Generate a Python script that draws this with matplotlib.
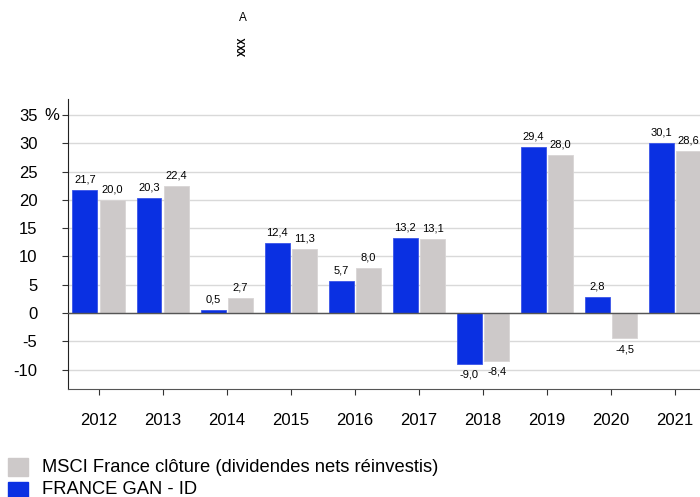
import matplotlib
matplotlib.use("Agg")
import matplotlib.pyplot as plt
from matplotlib.patches import Rectangle
import numpy as np

years = [2012, 2013, 2014, 2015, 2016, 2017, 2018, 2019, 2020, 2021]
fund = [21.7, 20.3, 0.5, 12.4, 5.7, 13.2, -9.0, 29.4, 2.8, 30.1]
index = [20.0, 22.4, 2.7, 11.3, 8.0, 13.1, -8.4, 28.0, -4.5, 28.6]
fund_name = "FRANCE GAN - ID"
index_name = "MSCI France clôture (dividendes nets réinvestis)"
yticks = [-10, -5, 0, 5, 10, 15, 20, 25, 30, 35]

blue = "#0a30e2"
gray = "#cdc9c9"

W, H = 700, 497
plt.rcParams['font.family'] = ['Liberation Sans', 'DejaVu Sans']
fig = plt.figure(figsize=(W / 100, H / 100), dpi=100)
ax = fig.add_axes([68 / W, 1 - 389 / H, 632 / W, 290 / H])

x = np.array(years, dtype=float)
bw = 0.39
off = 0.215
ax.bar(x - off, fund, width=bw, color=blue, edgecolor="#3a55e8", lw=0.6, zorder=3)
ax.bar(x + off, index, width=bw, color=gray, edgecolor="#d8d5d5", lw=0.6, zorder=3)

ax.set_xlim(2011.52, 2021.39)
ax.set_ylim(-13.43, 37.83)

for v in yticks:
    ax.axhline(v, color="#d9d9d9", lw=1, zorder=1)
ax.axhline(0, color="#555555", lw=1, zorder=4)

def fmt(v):
    return f"{v:.1f}".replace(".", ",")

def label(xs, vals):
    for xi, v in zip(xs, vals):
        if v >= 0:
            ax.annotate(fmt(v), (xi, v), xytext=(0, 4), textcoords="offset points",
                        ha="center", va="bottom", fontsize=8, zorder=5)
        else:
            ax.annotate(fmt(v), (xi, v), xytext=(0, -4), textcoords="offset points",
                        ha="center", va="top", fontsize=8, zorder=5)

label(x - off, fund)
label(x + off, index)

ax.set_xticks(years)
ax.set_xticklabels([str(y) for y in years], fontsize=12)
ax.set_yticks(yticks)
ax.set_yticklabels([str(v) for v in yticks], fontsize=12)
ax.tick_params(axis="y", length=4, pad=18, color="#333333")
ax.tick_params(axis="x", length=4, pad=13, color="#333333")

for s in ["top", "right"]:
    ax.spines[s].set_visible(False)
ax.spines["left"].set_color("#222222")
ax.spines["bottom"].set_color("#555555")

fig.text(52 / W, 1 - 115 / H, "%", fontsize=12, ha="center", va="center")
fig.text(243 / W, 1 - 18 / H, "A", fontsize=8.5, ha="center", va="center")
fig.text(243 / W, 1 - 46 / H, "XXX", fontsize=7, ha="center", va="center",
         rotation=90, fontweight="bold")

# legend
fig.add_artist(Rectangle((8 / W, 1 - 476 / H), 20 / W, 18 / H, color=gray,
                         transform=fig.transFigure))
fig.add_artist(Rectangle((8 / W, 1 - 497 / H), 20 / W, 15 / H, color=blue,
                         transform=fig.transFigure))
fig.text(42 / W, 1 - 467 / H, index_name, fontsize=13.2, va="center", ha="left")
fig.text(42 / W, 1 - 489 / H, fund_name, fontsize=13.2, va="center", ha="left")

fig.savefig("out.png", dpi=100)
